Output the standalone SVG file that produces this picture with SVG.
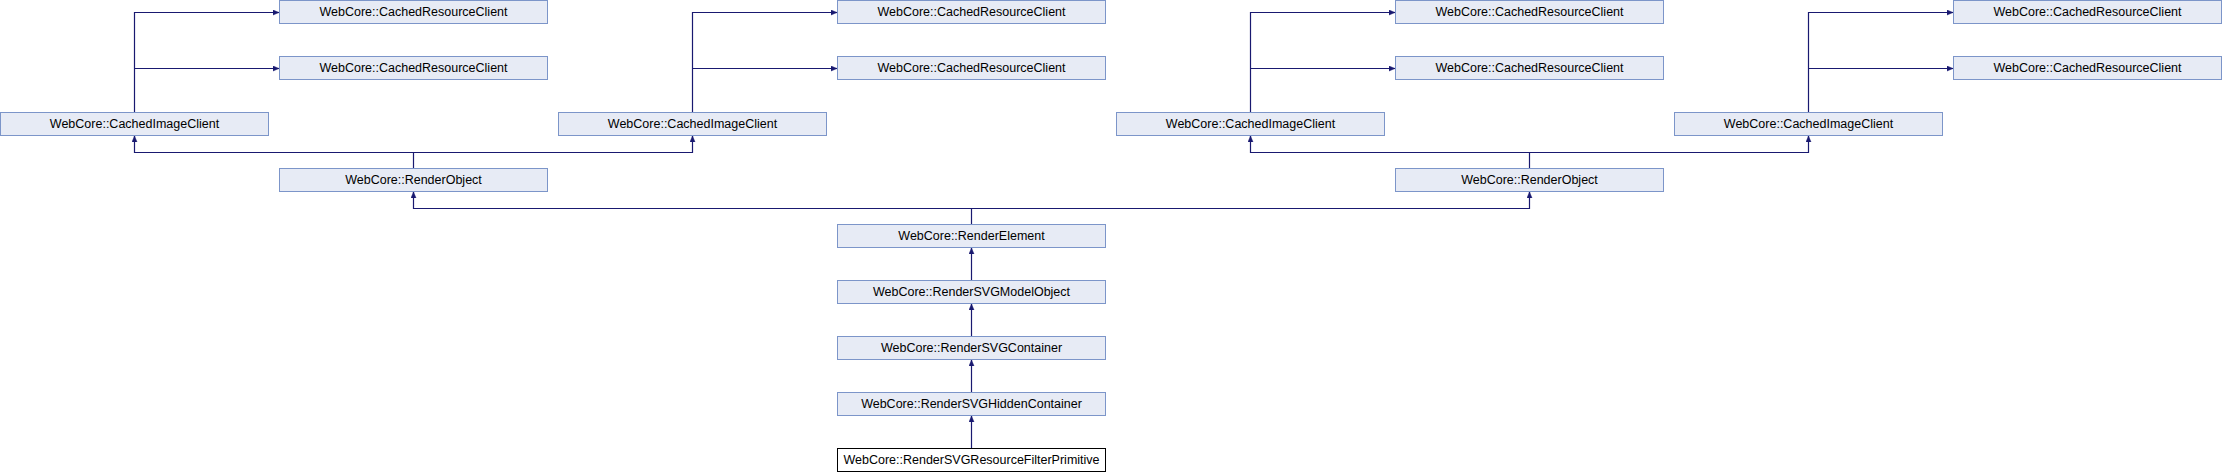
<svg xmlns="http://www.w3.org/2000/svg" width="2222" height="472" viewBox="0 0 2222 472">
<style>
.n rect{fill:#E7EBF5;stroke:#7C95C9;stroke-width:1}
.n.cur rect{fill:#FFFFFF;stroke:#000000}
.n text{font-family:"Liberation Sans",Arial,sans-serif;font-size:12.5px;fill:#000000;text-anchor:middle}
.e path{fill:none;stroke:#191970;stroke-width:1.2;marker-end:url(#ah)}
</style>
<defs>
<marker id="ah" markerUnits="userSpaceOnUse" markerWidth="7" markerHeight="6" refX="6" refY="2.5" orient="auto">
<path d="M0,0 L6,2.5 L0,5 z" fill="#191970" stroke="#191970" stroke-width="0.5"/>
</marker>
</defs>
<rect width="2222" height="472" fill="#FFFFFF"/>
<g id="connectors" class="e">
<path d="M134.5,112.5 V12.5 H279"/>
<path d="M134.5,68.5 H279"/>
<path d="M692.5,112.5 V12.5 H837"/>
<path d="M692.5,68.5 H837"/>
<path d="M1250.5,112.5 V12.5 H1395"/>
<path d="M1250.5,68.5 H1395"/>
<path d="M1808.5,112.5 V12.5 H1953"/>
<path d="M1808.5,68.5 H1953"/>
<path d="M413.5,168.5 V152.5 H134.5 V136"/>
<path d="M413.5,152.5 H692.5 V136"/>
<path d="M1529.5,168.5 V152.5 H1250.5 V136"/>
<path d="M1529.5,152.5 H1808.5 V136"/>
<path d="M971.5,224.5 V208.5 H413.5 V192"/>
<path d="M971.5,208.5 H1529.5 V192"/>
<path d="M971.5,280.5 V248"/>
<path d="M971.5,336.5 V304"/>
<path d="M971.5,392.5 V360"/>
<path d="M971.5,448.5 V416"/>
</g>
<g id="crc_a1" class="n"><rect x="279.5" y="0.5" width="268" height="23"/><text x="413.5" y="16">WebCore::CachedResourceClient</text></g>
<g id="crc_a2" class="n"><rect x="279.5" y="56.5" width="268" height="23"/><text x="413.5" y="72">WebCore::CachedResourceClient</text></g>
<g id="crc_b1" class="n"><rect x="837.5" y="0.5" width="268" height="23"/><text x="971.5" y="16">WebCore::CachedResourceClient</text></g>
<g id="crc_b2" class="n"><rect x="837.5" y="56.5" width="268" height="23"/><text x="971.5" y="72">WebCore::CachedResourceClient</text></g>
<g id="crc_c1" class="n"><rect x="1395.5" y="0.5" width="268" height="23"/><text x="1529.5" y="16">WebCore::CachedResourceClient</text></g>
<g id="crc_c2" class="n"><rect x="1395.5" y="56.5" width="268" height="23"/><text x="1529.5" y="72">WebCore::CachedResourceClient</text></g>
<g id="crc_d1" class="n"><rect x="1953.5" y="0.5" width="268" height="23"/><text x="2087.5" y="16">WebCore::CachedResourceClient</text></g>
<g id="crc_d2" class="n"><rect x="1953.5" y="56.5" width="268" height="23"/><text x="2087.5" y="72">WebCore::CachedResourceClient</text></g>
<g id="cic_a" class="n"><rect x="0.5" y="112.5" width="268" height="23"/><text x="134.5" y="128">WebCore::CachedImageClient</text></g>
<g id="cic_b" class="n"><rect x="558.5" y="112.5" width="268" height="23"/><text x="692.5" y="128">WebCore::CachedImageClient</text></g>
<g id="cic_c" class="n"><rect x="1116.5" y="112.5" width="268" height="23"/><text x="1250.5" y="128">WebCore::CachedImageClient</text></g>
<g id="cic_d" class="n"><rect x="1674.5" y="112.5" width="268" height="23"/><text x="1808.5" y="128">WebCore::CachedImageClient</text></g>
<g id="ro_a" class="n"><rect x="279.5" y="168.5" width="268" height="23"/><text x="413.5" y="184">WebCore::RenderObject</text></g>
<g id="ro_b" class="n"><rect x="1395.5" y="168.5" width="268" height="23"/><text x="1529.5" y="184">WebCore::RenderObject</text></g>
<g id="render_element" class="n"><rect x="837.5" y="224.5" width="268" height="23"/><text x="971.5" y="240">WebCore::RenderElement</text></g>
<g id="render_svg_model_object" class="n"><rect x="837.5" y="280.5" width="268" height="23"/><text x="971.5" y="296">WebCore::RenderSVGModelObject</text></g>
<g id="render_svg_container" class="n"><rect x="837.5" y="336.5" width="268" height="23"/><text x="971.5" y="352">WebCore::RenderSVGContainer</text></g>
<g id="render_svg_hidden_container" class="n"><rect x="837.5" y="392.5" width="268" height="23"/><text x="971.5" y="408">WebCore::RenderSVGHiddenContainer</text></g>
<g id="render_svg_resource_filter_primitive" class="n cur"><rect x="837.5" y="448.5" width="268" height="23"/><text x="971.5" y="464">WebCore::RenderSVGResourceFilterPrimitive</text></g>
</svg>
